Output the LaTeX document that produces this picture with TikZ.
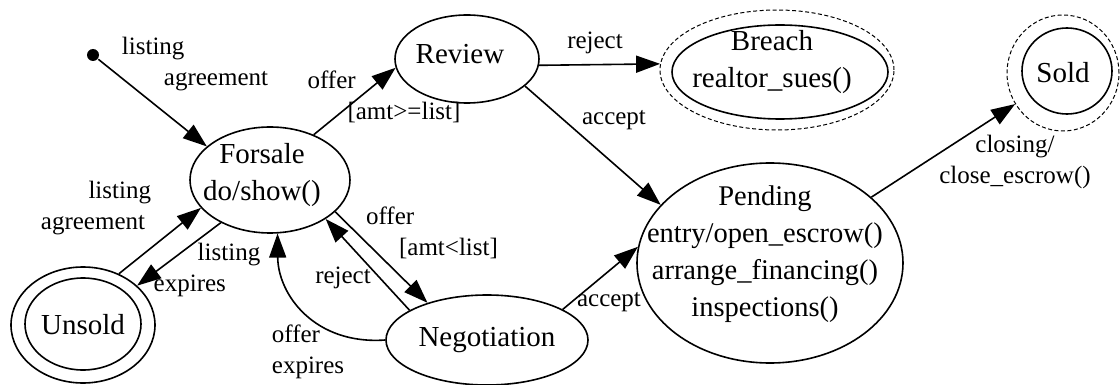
\documentclass[tikz,border=0pt]{standalone}
\usepackage{fontspec}
\setmainfont{Liberation Serif}
\usetikzlibrary{arrows.meta,shapes.geometric}

\begin{document}
\begin{tikzpicture}[x=1pt,y=-1pt,line width=1.6pt,every node/.style={align=center},
  state/.style={draw,ellipse,inner sep=0pt},
  final/.style={draw,ellipse,inner sep=0pt,line width=1pt,dash pattern=on 4pt off 2.5pt},
  stxt/.style={font=\fontsize{29}{37}\selectfont},
  lbl/.style={font=\fontsize{25}{31}\selectfont,inner sep=0pt},
  trans/.style={-{Triangle[length=24pt,width=17pt]}}]
  \useasboundingbox (0,0) rectangle (1120,385);
  % states
  \node[fill,circle,inner sep=0pt,minimum size=12pt] (init) at (93,55) {};
  \node[state,minimum width=160pt,minimum height=106pt,
    label={[stxt,xshift=-8pt,yshift=5pt]center:Forsale\\do/show()}] (forsale) at (270,180) {};
  \node[state,minimum width=144pt,minimum height=88pt,
    label={[stxt,xshift=-7pt,yshift=5pt]center:Review}] (review) at (467,59) {};
  \node[final,minimum width=234pt,minimum height=120pt,
    label={[stxt,xshift=-5pt,yshift=8pt]center:Breach\\realtor\_sues()}] (breach) at (777,70) {};
  \node[state,minimum width=216pt,minimum height=94pt] (breachin) at (780,72) {};
  \node[final,minimum width=112pt,minimum height=116pt,
    label={[stxt]center:Sold}] (sold) at (1063,73) {};
  \node[state,minimum width=90pt,minimum height=86pt] (soldin) at (1067,71) {};
  \node[state,minimum width=266pt,minimum height=200pt,
    label={[stxt,font=\fontsize{28.5}{37}\selectfont,xshift=-5pt,yshift=9pt]center:Pending\\entry/open\_escrow()\\arrange\_financing()\\inspections()}] (pending) at (770,263) {};
  \node[state,minimum width=202pt,minimum height=90pt,
    label={[stxt]center:Negotiation}] (negotiation) at (487,340) {};
  \node[state,minimum width=144pt,minimum height=116pt,
    label={[stxt]center:Unsold}] (unsold) at (83,325) {};
  \node[state,minimum width=116pt,minimum height=92pt] (unsoldin) at (83,324) {};
  % transitions
  \draw[trans] (init) -- (forsale.152) node[lbl,align=left] at (195,64) {listing\\\hspace*{42pt}agreement};
  \draw[trans] (forsale.46) -- (review.187) node[lbl,align=left] at (384,97) {offer\\\hspace*{40pt}[amt>=list]};
  \draw[trans] (review.355) -- (breach.177) node[lbl] at (595,43) {reject};
  \draw[trans] (review.335) -- (pending.152) node[lbl] at (614,120) {accept};
  \draw[trans] (pending.33) -- (sold.213) node[lbl] at (1015,162) {closing/\\close\_escrow()};
  \draw[trans] (unsold.55) -- (forsale.202) node[lbl,align=right] at (96,208) {listing\\agreement\hspace*{6pt}};
  \draw[trans] (forsale.221) -- (unsold.36) node[lbl,align=left] at (207,270) {\hspace*{44pt}listing\\expires};
  \draw[trans] (forsale.334) -- (negotiation.148) node[lbl,align=left] at (432,233) {offer\\\hspace*{33pt}[amt<list]};
  \draw[trans] (negotiation.159) -- (forsale.325) node[lbl] at (343,278) {reject};
  \draw[trans] (negotiation.180) .. controls (315,345) and (278,295) .. (forsale.278)
    node[lbl,align=left] at (308,352) {offer\\expires};
  \draw[trans] (negotiation.22) -- (pending.173) node[lbl] at (609,302) {accept};
\end{tikzpicture}
\end{document}
